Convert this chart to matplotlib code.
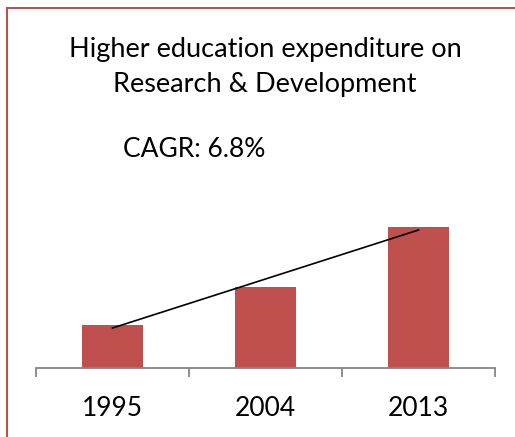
import matplotlib.pyplot as plt
from matplotlib.patches import Rectangle

years = ['1995', '2004', '2013']
spend = [43, 81, 141]          # bar heights
trend = [40, 138]              # trend line at first and last year
title_lines = ['Higher education expenditure on', 'Research & Development']
note = 'CAGR: 6.8%'

W, H = 515, 437
fig = plt.figure(figsize=(W / 100, H / 100), dpi=100)
plt.rcParams['font.family'] = ['Lato', 'DejaVu Sans']

# red frame, only left and top edges are in view (drawn as thin filled strips)
red = '#C0504D'
fig.add_artist(Rectangle((6 / W, 0), 2 / W, (H - 7) / H, transform=fig.transFigure,
                         facecolor=red, edgecolor='none'))
fig.add_artist(Rectangle((6 / W, (H - 9) / H), (W - 6) / W, 2 / H, transform=fig.transFigure,
                         facecolor=red, edgecolor='none'))

ax = fig.add_axes([36 / W, (H - 368) / H, 459 / W, 168 / H])
x = list(range(len(years)))
ax.bar(x, spend, width=0.4, color=red, zorder=2)
ax.plot([x[0], x[-1]], trend, color='black', linewidth=1.2, zorder=3)

ax.set_xlim(-0.5, 2.5)
ax.set_ylim(0, 168)
for s in ['top', 'right', 'left']:
    ax.spines[s].set_visible(False)
ax.spines['bottom'].set_color('#868686')
ax.spines['bottom'].set_linewidth(1.3)
ax.set_yticks([])
ax.set_xticks([-0.5, 0.5, 1.5, 2.5])
ax.set_xticklabels([])
ax.tick_params(axis='x', which='major', length=6.5, width=1.3, color='#868686', direction='out')
ax.set_xticks(x, minor=True)
ax.set_xticklabels(years, minor=True, fontsize=19)
ax.tick_params(axis='x', which='minor', length=0, pad=20)

fig.text(265 / W, 1 - 57 / H, title_lines[0], ha='center', va='baseline', fontsize=19.5)
fig.text(265 / W, 1 - 92 / H, title_lines[1], ha='center', va='baseline', fontsize=19.5)
fig.text(123 / W, 1 - 157 / H, note, ha='left', va='baseline', fontsize=19)

fig.savefig('out.png', dpi=100)
